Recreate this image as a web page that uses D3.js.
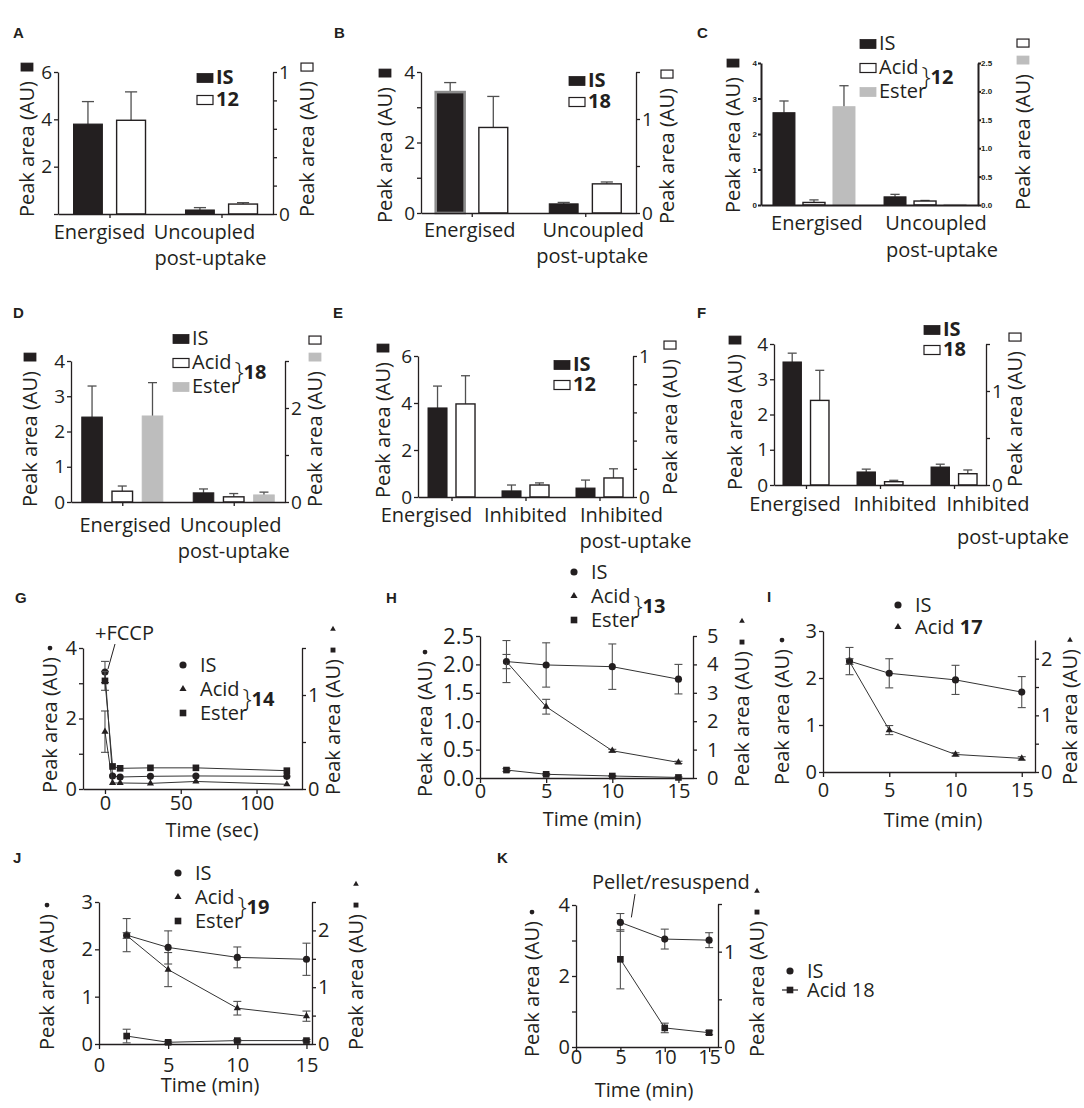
<!DOCTYPE html>
<html>
<head>
<meta charset="utf-8">
<script src="https://cdn.jsdelivr.net/npm/d3@7"></script>
<style>
  body { margin: 0; background: #fff; }
  svg { display: block; }
</style>
</head>
<body>
<script>
// ---------- bar panel data (A-F) ----------
const catsA = ["Energised", "Uncoupled|post-uptake"];
const isA = [3.8, 0.17], isAErr = [0.95, 0.1];
const cpd12A = [0.66, 0.07], cpd12AErr = [0.2, 0.01];

const catsB = ["Energised", "Uncoupled|post-uptake"];
const isB = [3.43, 0.26], isBErr = [0.27, 0.04];
const cpd18B = [0.91, 0.31], cpd18BErr = [0.33, 0.02];

const catsC = ["Energised", "Uncoupled|post-uptake"];
const isC = [2.6, 0.23], isCErr = [0.33, 0.07];
const acidC = [0.045, 0.07], acidCErr = [0.045, 0.01];
const esterC = [1.73, 0.01], esterCErr = [0.37, 0];

const catsD = ["Energised", "Uncoupled|post-uptake"];
const isD = [2.41, 0.26], isDErr = [0.88, 0.11];
const acidD = [0.23, 0.11], acidDErr = [0.11, 0.07];
const esterD = [1.83, 0.15], esterDErr = [0.71, 0.06];

const catsE = ["Energised", "Inhibited", "Inhibited|post-uptake"];
const isE = [3.79, 0.26, 0.38], isEErr = [0.93, 0.25, 0.34];
const cpd12E = [0.66, 0.085, 0.135], cpd12EErr = [0.2, 0.015, 0.065];

const catsF = ["Energised", "Inhibited", "Inhibited|post-uptake"];
const isF = [3.49, 0.37, 0.51], isFErr = [0.25, 0.08, 0.08];
const cpd18F = [0.9, 0.035, 0.12], cpd18FErr = [0.32, 0.015, 0.04];

// ---------- time course data (G-K) ----------
const timeG = [0, 5, 10, 30, 60, 120];
const isG = [3.32, 0.37, 0.34, 0.36, 0.37, 0.36], isGErr = [0.3, 0, 0, 0, 0, 0];
const acidG = [0.61, 0.064, 0.064, 0.06, 0.08, 0.05], acidGErr = [0.22, 0, 0, 0, 0, 0];
const esterG = [1.15, 0.24, 0.22, 0.225, 0.225, 0.195], esterGErr = [0.1, 0, 0, 0, 0, 0];

const timeH = [2, 5, 10, 15];
const isH = [2.05, 1.99, 1.96, 1.74], isHErr = [0.37, 0.39, 0.4, 0.26];
const acidH = [4.1, 2.51, 0.96, 0.55], acidHErr = [0.25, 0.26, 0.05, 0.04];
const esterH = [0.28, 0.13, 0.07, 0.02], esterHErr = [0.05, 0.03, 0.02, 0.02];

const timeI = [2, 5, 10, 15];
const isI = [2.36, 2.1, 1.96, 1.7], isIErr = [0.29, 0.31, 0.31, 0.33];
const acidI = [1.95, 0.74, 0.31, 0.24], acidIErr = [0.05, 0.08, 0.03, 0.03];

const timeJ = [2, 5, 10, 15];
const isJ = [2.3, 2.04, 1.83, 1.79], isJErr = [0.35, 0.35, 0.22, 0.34];
const acidJ = [1.91, 1.31, 0.63, 0.49], acidJErr = [0.05, 0.3, 0.12, 0.09];
const esterJ = [0.14, 0.03, 0.06, 0.06], esterJErr = [0.12, 0.02, 0.02, 0.02];

const timeK = [5, 10, 15];
const isK = [3.51, 3.04, 3.01], isKErr = [0.25, 0.28, 0.21];
const acidK = [0.92, 0.2, 0.15], acidKErr = [0.31, 0.05, 0.02];

// ---------- tick values ----------
const tk06 = [0, 2, 4, 6];
const tk04 = [0, 1, 2, 3, 4];
const tk03 = [0, 1, 2, 3];
const tk05 = [0, 1, 2, 3, 4, 5];
const tk01 = [0, 0.2, 0.4, 0.6, 0.8, 1];
const tk015 = [0, 0.5, 1, 1.5];
const tk02 = [0, 0.5, 1, 1.5, 2];
const tk025 = [0, 0.5, 1, 1.5, 2, 2.5];
const tkMin = [0, 5, 10, 15];
const tkSec = [0, 50, 100];

const INK = "#231f20", GREY = "#bdbdbd", ERR = "#505050";
const FONT = "'Open Sans', sans-serif";
const FILL = { black: INK, white: "#fff", gray: GREY };
const SYM = { circle: d3.symbolCircle, square: d3.symbolSquare, triangle: d3.symbolTriangle };
const MARK = { circle: 40, square: 44, triangle: 22 };
const SMALL = { circle: 18, square: 24, triangle: 14 };

const svg = d3.select("body").append("svg")
    .attr("width", 1084)
    .attr("height", 1108)
    .style("font-family", FONT);

function styleAxis(a, o) {
    a.attr("font-family", null).attr("font-size", null);
    a.select(".domain").attr("stroke", INK).attr("stroke-width", o.sw || 1.3);
    a.selectAll(".tick line").attr("stroke", INK).attr("stroke-width", o.sw || 1.3);
    a.selectAll(".tick text")
        .attr("fill", INK)
        .style("font-family", o.font || FONT)
        .style("font-size", (o.fs || 19) + "px")
        .style("font-weight", o.fw || 400);
}

function yAxis(g, scale, x, side, ax, o) {
    const fmt = ax.fmt ? d3.format(ax.fmt) : String;
    const axis = (side === "L" ? d3.axisLeft(scale) : d3.axisRight(scale))
        .tickValues(ax.ticks)
        .tickFormat(d => ax.labels.includes(d) ? fmt(d) : "")
        .tickSize(o.ts || 4)
        .tickSizeOuter(0)
        .tickPadding(side === "L" ? (o.tpL ?? 2) : (o.tpR ?? 2));
    const a = g.append("g").attr("transform", `translate(${x},0)`).call(axis);
    styleAxis(a, { ...o, fs: (side === "L" ? o.fsL : o.fsR) || o.fs });
}

function drawSym(g, kind, cx, cy, w, h, small) {
    if (FILL[kind]) {
        g.append("rect")
            .attr("x", cx - w / 2).attr("y", cy - h / 2)
            .attr("width", w).attr("height", h)
            .attr("fill", FILL[kind])
            .attr("stroke", kind === "gray" ? GREY : INK)
            .attr("stroke-width", kind === "white" ? 1.2 : 0.8);
    } else {
        g.append("path")
            .attr("transform", `translate(${cx},${cy})`)
            .attr("d", d3.symbol().type(SYM[kind]).size(small ? SMALL[kind] : MARK[kind])())
            .attr("fill", INK);
    }
}

function letter(l) {
    svg.append("text").attr("x", l.x).attr("y", l.y)
        .style("font-family", "'Liberation Sans', Arial, sans-serif")
        .style("font-size", "15px").style("font-weight", 700)
        .attr("fill", INK).text(l.t);
}

// rotated "Peak area (AU)" with its key symbols stacked above
function yLabel(g, lab, isBar) {
    const t = g.append("text")
        .attr("transform", `translate(${lab.x},${lab.y}) rotate(-90)`)
        .style("font-size", "20px").attr("fill", INK)
        .text("Peak area (AU)");
    const len = t.node().getComputedTextLength();
    let yy = lab.y - len - (isBar ? 10 : 6);
    lab.syms.forEach(s => {
        if (isBar) {
            drawSym(g, s, lab.x - 7, yy - 4, 12, 8);
            yy -= 17;
        } else {
            drawSym(g, s, lab.x - 7, yy - 3, 0, 0, true);
            yy -= 21;
        }
    });
}

function legend(g, lg, isBar) {
    let acidEnd = 0;
    lg.items.forEach((it, i) => {
        const by = lg.y + i * lg.dy;
        const tx = lg.x + (isBar ? 19 : 17);
        if (isBar) {
            drawSym(g, it.sym, lg.x + 8, by - 6, 16, 9);
        } else {
            if (it.line) {
                g.append("line").attr("x1", lg.x - 8).attr("x2", lg.x + 8)
                    .attr("y1", by - 7).attr("y2", by - 7)
                    .attr("stroke", INK).attr("stroke-width", 1.2);
            }
            drawSym(g, it.sym, lg.x, by - 7);
        }
        const t = g.append("text").attr("x", tx).attr("y", by)
            .style("font-size", "20px").style("font-weight", it.bold ? 700 : 400)
            .attr("fill", INK).text(it.text);
        if (it.suffix) t.append("tspan").style("font-weight", 700).text(it.suffix);
        if (i === 1) acidEnd = tx + t.node().getComputedTextLength();
    });
    if (lg.brace) {
        const y1 = lg.y + lg.dy, y2 = lg.y + 2 * lg.dy;
        const bx = acidEnd + 3;
        g.append("text").attr("x", bx).attr("y", (y1 + y2) / 2 - 1)
            .style("font-size", "26px").style("font-weight", 300)
            .attr("fill", INK).text("}");
        g.append("text").attr("x", bx + 9).attr("y", (y1 + y2) / 2 - 2)
            .style("font-size", "20px").style("font-weight", 700)
            .attr("fill", INK).text(lg.brace);
    }
}

function barPanel(p) {
    const g = svg.append("g");
    letter(p.letter);
    const x = d3.scalePoint().domain(p.cats).range([p.x0, p.x1]).padding(p.pad);
    const inner = d3.scaleBand()
        .domain(p.series.map(s => s.key))
        .range([-p.gw / 2, p.gw / 2])
        .paddingInner(p.ip);
    const yL = d3.scaleLinear().domain(p.yL.domain).range([p.yB, p.yT]);
    const yR = d3.scaleLinear().domain(p.yR.domain).range([p.yB, p.yT]);
    const bw = inner.bandwidth();
    const capW = Math.max(9, bw * 0.42);

    p.series.forEach(s => {
        const y = s.axis === "R" ? yR : yL;
        const rows = p.cats.map((c, i) => ({ c, i, v: s.values[i], e: s.errors[i] }));
        const cx = d => x(d.c) + inner(s.key) + bw / 2;
        const eg = g.append("g").attr("stroke", ERR).attr("stroke-width", 1.3);
        eg.selectAll("line.v").data(rows.filter(d => d.e > 0)).join("line")
            .attr("x1", cx).attr("x2", cx)
            .attr("y1", d => y(d.v)).attr("y2", d => y(d.v + d.e));
        eg.selectAll("line.c").data(rows.filter(d => d.e > 0)).join("line")
            .attr("x1", d => cx(d) - capW / 2).attr("x2", d => cx(d) + capW / 2)
            .attr("y1", d => y(d.v + d.e)).attr("y2", d => y(d.v + d.e));
        g.append("g").selectAll("rect").data(rows).join("rect")
            .attr("x", d => x(d.c) + inner(s.key))
            .attr("y", d => y(d.v))
            .attr("width", bw)
            .attr("height", d => p.yB - y(d.v))
            .attr("fill", FILL[s.sym])
            .attr("stroke", d => (s.outline && s.outline.includes(d.i)) ? "#8c8c8c" : (s.sym === "gray" ? GREY : INK))
            .attr("stroke-width", d => (s.outline && s.outline.includes(d.i)) ? 2.6 : (s.sym === "white" ? 1.4 : 1));
    });

    const o = p.axisStyle || {};
    yAxis(g, yL, p.x0, "L", p.yL, o);
    yAxis(g, yR, p.x1, "R", p.yR, o);
    const xa = g.append("g").attr("transform", `translate(0,${p.yB})`)
        .call(d3.axisBottom(x).tickSize(p.xTicks ? 4 : 0).tickSizeOuter(0).tickFormat(""));
    styleAxis(xa, o);

    p.cats.forEach((c, i) => {
        c.split("|").forEach((line, j) => {
            g.append("text")
                .attr("x", x(c) + p.catDx[i][j]).attr("y", p.catY[j])
                .attr("text-anchor", "middle")
                .style("font-size", "20px").attr("fill", INK)
                .text(line);
        });
    });

    legend(g, p.legend, true);
    yLabel(g, p.labL, true);
    yLabel(g, p.labR, true);
}

function linePanel(p) {
    const g = svg.append("g");
    letter(p.letter);
    const x = d3.scaleLinear().domain(p.xDomain).range([p.x0, p.x1]);
    const yL = d3.scaleLinear().domain(p.yL.domain).range([p.yB, p.yTL]);
    const yR = d3.scaleLinear().domain(p.yR.domain).range([p.yB, p.yTR]);
    const o = p.axisStyle || {};

    yAxis(g, yL, p.x0, "L", p.yL, o);
    yAxis(g, yR, p.x1, "R", p.yR, o);
    const xa = g.append("g").attr("transform", `translate(0,${p.yB})`)
        .call(d3.axisBottom(x).tickValues(p.xTicks).tickSize(5).tickSizeOuter(0).tickPadding(p.xPad));
    styleAxis(xa, { ...o, fs: 20 });

    p.series.forEach(s => {
        const y = s.axis === "R" ? yR : yL;
        const pts = s.t.map((t, i) => ({ t, v: s.v[i], e: s.e[i] }));
        const withErr = pts.filter(d => d.e > 0);
        const eg = g.append("g").attr("stroke", ERR).attr("stroke-width", 1.1);
        eg.selectAll("line.v").data(withErr).join("line")
            .attr("x1", d => x(d.t)).attr("x2", d => x(d.t))
            .attr("y1", d => y(d.v - d.e)).attr("y2", d => y(d.v + d.e));
        [-1, 1].forEach(sg => {
            eg.selectAll("line.c" + sg).data(withErr).join("line")
                .attr("x1", d => x(d.t) - 4).attr("x2", d => x(d.t) + 4)
                .attr("y1", d => y(d.v + sg * d.e)).attr("y2", d => y(d.v + sg * d.e));
        });
        g.append("path").datum(pts)
            .attr("d", d3.line().x(d => x(d.t)).y(d => y(d.v)))
            .attr("fill", "none").attr("stroke", "#333").attr("stroke-width", 1);
        pts.forEach(d => drawSym(g, s.sym, x(d.t), y(d.v)));
    });

    if (p.note) {
        const n = p.note, s = p.series[n.series];
        const y = s.axis === "R" ? yR : yL;
        g.append("text").attr("x", n.x).attr("y", n.y)
            .style("font-size", "20px").attr("fill", INK).text(n.text);
        g.append("line")
            .attr("x1", n.from[0]).attr("y1", n.from[1])
            .attr("x2", x(s.t[n.point]) + n.off[0]).attr("y2", y(s.v[n.point]) + n.off[1])
            .attr("stroke", INK).attr("stroke-width", 1);
    }

    g.append("text").attr("x", p.xLabel.x).attr("y", p.xLabel.y)
        .attr("text-anchor", "middle")
        .style("font-size", "20px").attr("fill", INK).text(p.xLabel.text);

    legend(g, p.legend, false);
    yLabel(g, p.labL, false);
    yLabel(g, p.labR, false);
}

// ---------- A ----------
barPanel({
    letter: { t: "A", x: 13, y: 38 },
    cats: catsA, x0: 58, x1: 273, yB: 214, yT: 72, pad: 0.46, gw: 72, ip: 0.33, xTicks: true,
    yL: { domain: [0, 6], ticks: tk06, labels: [2, 4, 6] },
    yR: { domain: [0, 1], ticks: tk01, labels: [0, 1] },
    series: [
        { key: "IS", values: isA, errors: isAErr, axis: "L", sym: "black" },
        { key: "12", values: cpd12A, errors: cpd12AErr, axis: "R", sym: "white" }
    ],
    catDx: [[-10], [-17, -11]], catY: [239, 265],
    legend: { x: 197, y: 84, dy: 22, items: [{ sym: "black", text: "IS", bold: true }, { sym: "white", text: "12", bold: true }] },
    labL: { x: 34, y: 217, syms: ["black"] },
    labR: { x: 314, y: 217, syms: ["white"] }
});

// ---------- B ----------
barPanel({
    letter: { t: "B", x: 334, y: 38 },
    cats: catsB, x0: 421, x1: 636, yB: 213, yT: 72, pad: 0.447, gw: 72, ip: 0.33, xTicks: true,
    yL: { domain: [0, 4], ticks: tk04, labels: [0, 2, 4] },
    yR: { domain: [0, 1.5], ticks: tk015, labels: [0, 1] },
    series: [
        { key: "IS", values: isB, errors: isBErr, axis: "L", sym: "black", outline: [0] },
        { key: "18", values: cpd18B, errors: cpd18BErr, axis: "R", sym: "white" }
    ],
    catDx: [[-2], [8, 7]], catY: [237, 263],
    legend: { x: 569, y: 87, dy: 21, items: [{ sym: "black", text: "IS", bold: true }, { sym: "white", text: "18", bold: true }] },
    labL: { x: 392, y: 223, syms: ["black"] },
    labR: { x: 674, y: 224, syms: ["white"] }
});

// ---------- C ----------
barPanel({
    letter: { t: "C", x: 697, y: 38 },
    cats: catsC, x0: 761, x1: 978, yB: 205, yT: 63, pad: 0.477, gw: 82, ip: 0.267, xTicks: false,
    axisStyle: { sw: 2, fs: 8, fw: 700, font: "'Liberation Sans', Arial, sans-serif", ts: 3, tpL: 1, tpR: 0 },
    yL: { domain: [0, 4], ticks: tk04, labels: tk04 },
    yR: { domain: [0, 2.5], ticks: tk025, labels: tk025, fmt: ".1f" },
    series: [
        { key: "IS", values: isC, errors: isCErr, axis: "L", sym: "black" },
        { key: "Acid", values: acidC, errors: acidCErr, axis: "R", sym: "white" },
        { key: "Ester", values: esterC, errors: esterCErr, axis: "R", sym: "gray" }
    ],
    catDx: [[3], [11, 17]], catY: [230, 257],
    legend: { x: 860, y: 50, dy: 24, brace: "12", items: [{ sym: "black", text: "IS" }, { sym: "white", text: "Acid" }, { sym: "gray", text: "Ester" }] },
    labL: { x: 740, y: 213, syms: ["black"] },
    labR: { x: 1030, y: 210, syms: ["gray", "white"] }
});

// ---------- D ----------
barPanel({
    letter: { t: "D", x: 13, y: 318 },
    cats: catsD, x0: 71, x1: 285, yB: 502, yT: 361, pad: 0.46, gw: 81, ip: 0.32, xTicks: true,
    yL: { domain: [0, 4], ticks: tk04, labels: tk04 },
    yR: { domain: [0, 3], ticks: tk03, labels: [0, 2] },
    series: [
        { key: "IS", values: isD, errors: isDErr, axis: "L", sym: "black" },
        { key: "Acid", values: acidD, errors: acidDErr, axis: "R", sym: "white" },
        { key: "Ester", values: esterD, errors: esterDErr, axis: "R", sym: "gray" }
    ],
    catDx: [[3], [-3, 0]], catY: [532, 558],
    legend: { x: 173, y: 345, dy: 24, brace: "18", items: [{ sym: "black", text: "IS" }, { sym: "white", text: "Acid" }, { sym: "gray", text: "Ester" }] },
    labL: { x: 37, y: 507, syms: ["black"] },
    labR: { x: 322, y: 507, syms: ["gray", "white"] }
});

// ---------- E ----------
barPanel({
    letter: { t: "E", x: 333, y: 318 },
    cats: catsE, x0: 418, x1: 633, yB: 497, yT: 356, pad: 0.453, gw: 47, ip: 0.32, xTicks: true,
    yL: { domain: [0, 6], ticks: tk06, labels: tk06 },
    yR: { domain: [0, 1], ticks: tk01, labels: [0, 1] },
    series: [
        { key: "IS", values: isE, errors: isEErr, axis: "L", sym: "black" },
        { key: "12", values: cpd12E, errors: cpd12EErr, axis: "R", sym: "white" }
    ],
    catDx: [[-25], [0], [22, 36]], catY: [522, 548],
    legend: { x: 554, y: 371, dy: 20, items: [{ sym: "black", text: "IS", bold: true }, { sym: "white", text: "12", bold: true }] },
    labL: { x: 390, y: 498, syms: ["black"] },
    labR: { x: 677, y: 495, syms: ["white"] }
});

// ---------- F ----------
barPanel({
    letter: { t: "F", x: 697, y: 318 },
    cats: catsF, x0: 774, x1: 986, yB: 485, yT: 344, pad: 0.432, gw: 46, ip: 0.33, xTicks: true,
    yL: { domain: [0, 4], ticks: tk04, labels: tk04 },
    yR: { domain: [0, 1.5], ticks: tk015, labels: [0, 1] },
    series: [
        { key: "IS", values: isF, errors: isFErr, axis: "L", sym: "black" },
        { key: "18", values: cpd18F, errors: cpd18FErr, axis: "R", sym: "white" }
    ],
    catDx: [[-11], [15], [34, 59]], catY: [511, 544],
    legend: { x: 924, y: 336, dy: 20, items: [{ sym: "black", text: "IS", bold: true }, { sym: "white", text: "18", bold: true }] },
    labL: { x: 742, y: 490, syms: ["black"] },
    labR: { x: 1022, y: 487, syms: ["white"] }
});

// ---------- G ----------
linePanel({
    letter: { t: "G", x: 15, y: 603 },
    x0: 83, x1: 302, yB: 789, yTL: 648, yTR: 648, xDomain: [-14.5, 130], xTicks: tkSec, xPad: 2,
    axisStyle: { fs: 20 },
    yL: { domain: [0, 4], ticks: tk04, labels: [0, 2, 4] },
    yR: { domain: [0, 1.5], ticks: tk015, labels: [0, 1] },
    series: [
        { t: timeG, v: isG, e: isGErr, axis: "L", sym: "circle" },
        { t: timeG, v: acidG, e: acidGErr, axis: "R", sym: "triangle" },
        { t: timeG, v: esterG, e: esterGErr, axis: "R", sym: "square" }
    ],
    note: { text: "+FCCP", x: 95, y: 640, from: [115, 644], series: 0, point: 0, off: [3, -3] },
    xLabel: { text: "Time (sec)", x: 212, y: 837 },
    legend: { x: 183, y: 672, dy: 24, brace: "14", items: [{ sym: "circle", text: "IS" }, { sym: "triangle", text: "Acid" }, { sym: "square", text: "Ester" }] },
    labL: { x: 57, y: 793, syms: ["circle"] },
    labR: { x: 340, y: 795, syms: ["square", "triangle"] }
});

// ---------- H ----------
linePanel({
    letter: { t: "H", x: 386, y: 603 },
    x0: 480, x1: 693, yB: 778, yTL: 636, yTR: 636, xDomain: [0, 16.1], xTicks: tkMin, xPad: 1,
    axisStyle: { tpR: 10, fsL: 22, fsR: 20 },
    yL: { domain: [0, 2.5], ticks: tk025, labels: tk025, fmt: ".1f" },
    yR: { domain: [0, 5], ticks: tk05, labels: tk05 },
    series: [
        { t: timeH, v: isH, e: isHErr, axis: "L", sym: "circle" },
        { t: timeH, v: acidH, e: acidHErr, axis: "R", sym: "triangle" },
        { t: timeH, v: esterH, e: esterHErr, axis: "R", sym: "square" }
    ],
    xLabel: { text: "Time (min)", x: 592, y: 826 },
    legend: { x: 574, y: 579, dy: 24, brace: "13", items: [{ sym: "circle", text: "IS" }, { sym: "triangle", text: "Acid" }, { sym: "square", text: "Ester" }] },
    labL: { x: 432, y: 797, syms: ["circle"] },
    labR: { x: 749, y: 787, syms: ["square", "triangle"] }
});

// ---------- I ----------
linePanel({
    letter: { t: "I", x: 767, y: 602 },
    x0: 823, x1: 1035, yB: 772, yTL: 631, yTR: 640, xDomain: [0, 16], xTicks: tkMin, xPad: 6,
    axisStyle: { fs: 20 },
    yL: { domain: [0, 3], ticks: tk03, labels: tk03 },
    yR: { domain: [0, 2.33], ticks: tk02, labels: [0, 1, 2] },
    series: [
        { t: timeI, v: isI, e: isIErr, axis: "L", sym: "circle" },
        { t: timeI, v: acidI, e: acidIErr, axis: "R", sym: "triangle" }
    ],
    xLabel: { text: "Time (min)", x: 933, y: 827 },
    legend: { x: 898, y: 612, dy: 22, items: [{ sym: "circle", text: "IS" }, { sym: "triangle", text: "Acid ", suffix: "17" }] },
    labL: { x: 789, y: 785, syms: ["circle"] },
    labR: { x: 1077, y: 785, syms: ["triangle"] }
});

// ---------- J ----------
linePanel({
    letter: { t: "J", x: 13, y: 863 },
    x0: 99, x1: 312, yB: 1044, yTL: 902, yTR: 902, xDomain: [0, 15.4], xTicks: tkMin, xPad: 9,
    axisStyle: { fs: 20 },
    yL: { domain: [0, 3], ticks: tk03, labels: tk03 },
    yR: { domain: [0, 2.5], ticks: tk025, labels: [0, 1, 2] },
    series: [
        { t: timeJ, v: isJ, e: isJErr, axis: "L", sym: "circle" },
        { t: timeJ, v: acidJ, e: acidJErr, axis: "R", sym: "triangle" },
        { t: timeJ, v: esterJ, e: esterJErr, axis: "R", sym: "square" }
    ],
    xLabel: { text: "Time (min)", x: 210, y: 1092 },
    legend: { x: 178, y: 880, dy: 24, brace: "19", items: [{ sym: "circle", text: "IS" }, { sym: "triangle", text: "Acid" }, { sym: "square", text: "Ester" }] },
    labL: { x: 54, y: 1050, syms: ["circle"] },
    labR: { x: 363, y: 1050, syms: ["square", "triangle"] }
});

// ---------- K ----------
linePanel({
    letter: { t: "K", x: 497, y: 863 },
    x0: 576, x1: 718, yB: 1047, yTL: 905, yTR: 904, xDomain: [0, 16], xTicks: tkMin, xPad: -2,
    axisStyle: { fs: 20 },
    yL: { domain: [0, 4], ticks: tk04, labels: [0, 2, 4] },
    yR: { domain: [0, 1.5], ticks: tk015, labels: [0, 1] },
    series: [
        { t: timeK, v: isK, e: isKErr, axis: "L", sym: "circle" },
        { t: timeK, v: acidK, e: acidKErr, axis: "R", sym: "square" }
    ],
    note: { text: "Pellet/resuspend", x: 592, y: 889, from: [635, 894], series: 0, point: 0, off: [11, -5] },
    xLabel: { text: "Time (min)", x: 644, y: 1097 },
    legend: { x: 790, y: 978, dy: 19, items: [{ sym: "circle", text: "IS" }, { sym: "square", text: "Acid 18", line: true }] },
    labL: { x: 539, y: 1057, syms: ["circle"] },
    labR: { x: 764, y: 1057, syms: ["square", "triangle"] }
});
</script>
</body>
</html>
